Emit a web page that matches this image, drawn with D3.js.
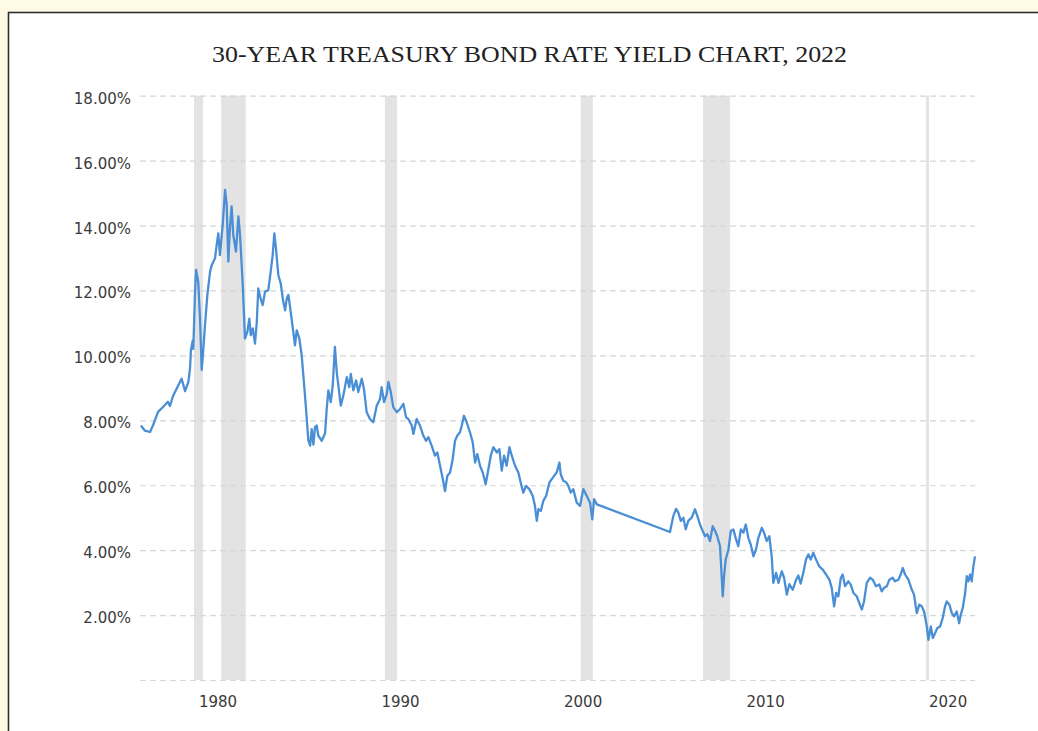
<!DOCTYPE html>
<html>
<head>
<meta charset="utf-8">
<script src="https://cdn.jsdelivr.net/npm/d3@7"></script>
<style>
  html, body { margin: 0; padding: 0; background: #fffae3; }
  svg { display: block; }
</style>
</head>
<body>
<svg id="chart" width="1038" height="731"></svg>
<script>
// ---------------- data ----------------
const title = "30-YEAR TREASURY BOND RATE YIELD CHART, 2022";
const xTickYears = [1980, 1990, 2000, 2010, 2020];
const yTickValues = [0, 2, 4, 6, 8, 10, 12, 14, 16, 18];
const recessionStart = [1978.71, 1980.20, 1989.17, 1999.90, 2006.60, 2018.82];
const recessionEnd   = [1979.20, 1981.54, 1989.83, 2000.56, 2008.08, 2018.98];

const years = [
  1975.80,1976.02,1976.30,1976.46,1976.74,1977.01,1977.28,1977.39,1977.56,1977.94,
  1978.03,1978.22,1978.40,1978.49,1978.54,1978.64,1978.67,1978.76,1978.82,1978.94,
  1979.04,1979.13,1979.22,1979.31,1979.44,1979.59,1979.68,1979.86,1979.95,1980.04,
  1980.13,1980.28,1980.41,1980.50,1980.59,1980.68,1980.77,1980.86,1981.01,1981.14,
  1981.23,1981.38,1981.50,1981.63,1981.74,1981.82,1981.93,1982.05,1982.15,1982.23,
  1982.36,1982.47,1982.60,1982.78,1982.91,1983.02,1983.11,1983.20,1983.33,1983.46,
  1983.60,1983.70,1983.79,1983.88,1983.97,1984.15,1984.24,1984.34,1984.48,1984.61,
  1984.70,1984.79,1984.88,1984.97,1985.07,1985.16,1985.25,1985.34,1985.43,1985.52,
  1985.71,1985.89,1985.98,1986.07,1986.20,1986.31,1986.43,1986.53,1986.62,1986.75,
  1986.89,1987.08,1987.22,1987.30,1987.44,1987.59,1987.71,1987.90,1988.02,1988.17,
  1988.35,1988.53,1988.72,1988.90,1988.99,1989.12,1989.27,1989.36,1989.49,1989.63,
  1989.82,1990.00,1990.18,1990.33,1990.45,1990.64,1990.73,1990.91,1991.09,1991.27,
  1991.42,1991.55,1991.73,1991.91,1992.04,1992.19,1992.34,1992.46,1992.59,1992.74,
  1992.88,1993.01,1993.14,1993.28,1993.38,1993.50,1993.65,1993.83,1993.98,1994.11,
  1994.23,1994.38,1994.53,1994.69,1994.84,1994.97,1995.11,1995.30,1995.44,1995.57,
  1995.70,1995.84,1995.99,1996.12,1996.30,1996.48,1996.61,1996.75,1996.90,1997.08,
  1997.27,1997.39,1997.49,1997.58,1997.71,1997.85,1998.00,1998.18,1998.31,1998.44,
  1998.58,1998.73,1998.80,1998.95,1999.09,1999.22,1999.35,1999.49,1999.68,1999.86,
  2000.04,2000.23,2000.41,2000.53,2000.63,2000.78,
  2004.79,2004.97,2005.12,2005.25,2005.38,2005.52,2005.65,2005.79,2005.98,2006.16,
  2006.29,2006.43,2006.58,2006.71,2006.84,2006.98,2007.13,2007.26,2007.38,2007.53,
  2007.62,2007.68,2007.75,2007.84,2007.99,2008.12,2008.26,2008.41,2008.53,2008.67,
  2008.81,2008.94,2009.08,2009.21,2009.36,2009.50,2009.63,2009.82,2009.94,2010.09,
  2010.23,2010.36,2010.45,2010.60,2010.73,2010.91,2011.04,2011.19,2011.33,2011.51,
  2011.70,2011.82,2011.95,2012.10,2012.24,2012.37,2012.50,2012.64,2012.79,2012.97,
  2013.16,2013.34,2013.52,2013.65,2013.78,2013.89,2014.01,2014.15,2014.25,2014.38,
  2014.56,2014.69,2014.84,2015.02,2015.16,2015.30,2015.42,2015.57,2015.75,2015.90,
  2016.08,2016.26,2016.39,2016.52,2016.67,2016.81,2016.99,2017.12,2017.30,2017.43,
  2017.54,2017.67,2017.85,2018.04,2018.16,2018.31,2018.45,2018.58,2018.71,2018.86,
  2018.95,2019.08,2019.19,2019.31,2019.44,2019.59,2019.73,2019.86,2019.95,2020.10,
  2020.23,2020.35,2020.50,2020.63,2020.72,2020.83,2020.96,2021.05,2021.14,2021.23,
  2021.32,2021.41,2021.50
];
const yields = [
  7.84,7.68,7.64,7.84,8.26,8.41,8.57,8.44,8.75,9.18,
  9.28,8.90,9.18,9.59,10.15,10.46,10.20,11.86,12.63,12.27,
  11.13,9.55,10.20,10.93,11.86,12.58,12.78,12.99,13.40,13.76,
  13.09,14.02,15.10,14.64,12.89,13.97,14.59,13.71,13.20,14.28,
  13.71,12.17,10.52,10.72,11.13,10.62,10.83,10.36,11.03,12.06,
  11.75,11.55,11.96,12.01,12.58,13.09,13.76,13.30,12.47,12.22,
  11.65,11.39,11.75,11.86,11.50,10.72,10.31,10.77,10.52,10.00,
  9.38,8.76,8.10,7.40,7.22,7.73,7.25,7.79,7.84,7.53,
  7.37,7.60,8.35,8.92,8.56,9.07,10.26,9.48,9.07,8.45,
  8.76,9.33,9.02,9.43,8.92,9.23,8.87,9.28,8.97,8.25,
  8.04,7.94,8.45,8.66,9.02,8.56,8.81,9.18,8.87,8.40,
  8.25,8.35,8.51,8.09,8.04,7.84,7.58,8.04,7.84,7.53,
  7.37,7.48,7.22,6.91,7.01,6.60,6.19,5.82,6.29,6.39,
  6.80,7.37,7.53,7.63,7.84,8.14,7.94,7.63,7.32,6.70,
  6.96,6.60,6.39,6.03,6.50,6.91,7.17,7.01,7.11,6.45,
  6.91,6.60,7.17,6.91,6.60,6.39,6.08,5.77,5.98,5.88,
  5.67,5.36,4.90,5.26,5.21,5.52,5.67,6.08,6.19,6.29,
  6.39,6.70,6.34,6.13,6.10,5.98,5.77,5.88,5.46,5.36,
  5.88,5.67,5.46,4.95,5.57,5.41,
  4.56,5.05,5.27,5.15,4.90,5.00,4.64,4.90,5.00,5.26,
  5.05,4.79,4.59,4.43,4.49,4.28,4.74,4.59,4.43,4.12,
  3.20,2.58,3.20,3.71,4.02,4.59,4.64,4.33,4.12,4.64,
  4.54,4.79,4.38,4.18,3.81,4.02,4.38,4.69,4.54,4.28,
  4.43,3.81,2.99,3.30,2.99,3.35,3.15,2.63,2.95,2.78,
  3.09,3.22,2.97,3.33,3.71,3.87,3.71,3.92,3.71,3.50,
  3.40,3.25,3.09,2.84,2.27,2.68,2.58,3.15,3.25,2.89,
  3.04,2.94,2.68,2.58,2.37,2.17,2.42,2.99,3.15,3.09,
  2.89,2.94,2.73,2.84,2.89,3.09,3.15,3.04,3.09,3.25,
  3.45,3.25,3.09,2.78,2.63,2.06,2.32,2.27,2.11,1.65,
  1.24,1.65,1.29,1.44,1.60,1.65,1.91,2.27,2.42,2.32,
  2.06,1.96,2.11,1.75,2.01,2.22,2.68,3.20,3.04,3.25,
  3.04,3.50,3.81
];

// ---------------- drawing ----------------
const svg = d3.select("#chart");

// white panel with dark top/left border
svg.append("rect")
  .attr("x", 8.5).attr("y", 12.5)
  .attr("width", 1060).attr("height", 760)
  .attr("fill", "#ffffff")
  .attr("stroke", "#2f2f2f")
  .attr("stroke-width", 1.6);

svg.append("text")
  .attr("x", 529.5).attr("y", 62)
  .attr("text-anchor", "middle")
  .attr("font-family", "'Liberation Serif', 'DejaVu Serif', serif")
  .attr("font-size", 24)
  .attr("fill", "#222")
  .attr("textLength", 635)
  .attr("lengthAdjust", "spacingAndGlyphs")
  .text(title);

const x = d3.scaleLinear().domain([1975.75, 2021.5]).range([140, 975]);
const y = d3.scaleLinear().domain([0, 18]).range([680, 95.7]);

// recession bands
svg.append("g").selectAll("rect")
  .data(recessionStart.map((s, i) => [s, recessionEnd[i]]))
  .join("rect")
  .attr("x", d => x(d[0]))
  .attr("width", d => Math.max(2, x(d[1]) - x(d[0])))
  .attr("y", y(18))
  .attr("height", y(0) - y(18))
  .attr("fill", "#e3e3e3");

// gridlines
const grid = svg.append("g")
  .attr("transform", "translate(140,0)")
  .call(d3.axisLeft(y).tickValues(yTickValues).tickSize(-835).tickFormat(""));
grid.select(".domain").remove();
grid.selectAll(".tick line")
  .attr("stroke", "#d6d6d6")
  .attr("stroke-width", 1.2)
  .attr("stroke-dasharray", "6,4");

// y labels
const yAxis = svg.append("g")
  .attr("transform", "translate(131,0)")
  .call(d3.axisLeft(y).tickValues(yTickValues.filter(v => v > 0)).tickSize(0).tickPadding(0)
        .tickFormat(d => d.toFixed(2) + "%"));
yAxis.select(".domain").remove();
yAxis.selectAll("text")
  .attr("font-family", "'DejaVu Sans', Verdana, sans-serif")
  .attr("font-size", 15)
  .attr("fill", "#3a3a3a")
  .attr("dy", "0.5em");

// x labels
const xAxis = svg.append("g")
  .attr("transform", "translate(0,690)")
  .call(d3.axisBottom(x).tickValues(xTickYears).tickSize(0).tickPadding(0).tickFormat(d3.format("d")));
xAxis.select(".domain").remove();
xAxis.selectAll("text")
  .attr("font-family", "'DejaVu Sans', Verdana, sans-serif")
  .attr("font-size", 15)
  .attr("fill", "#3a3a3a")
  .attr("dy", "1.1em");

// yield line
const pts = years.map((yr, i) => [yr, yields[i]]);
svg.append("path")
  .datum(pts)
  .attr("fill", "none")
  .attr("stroke", "#4a8fd6")
  .attr("stroke-width", 2.3)
  .attr("stroke-linejoin", "round")
  .attr("d", d3.line().x(d => x(d[0])).y(d => y(d[1])));
</script>
</body>
</html>
